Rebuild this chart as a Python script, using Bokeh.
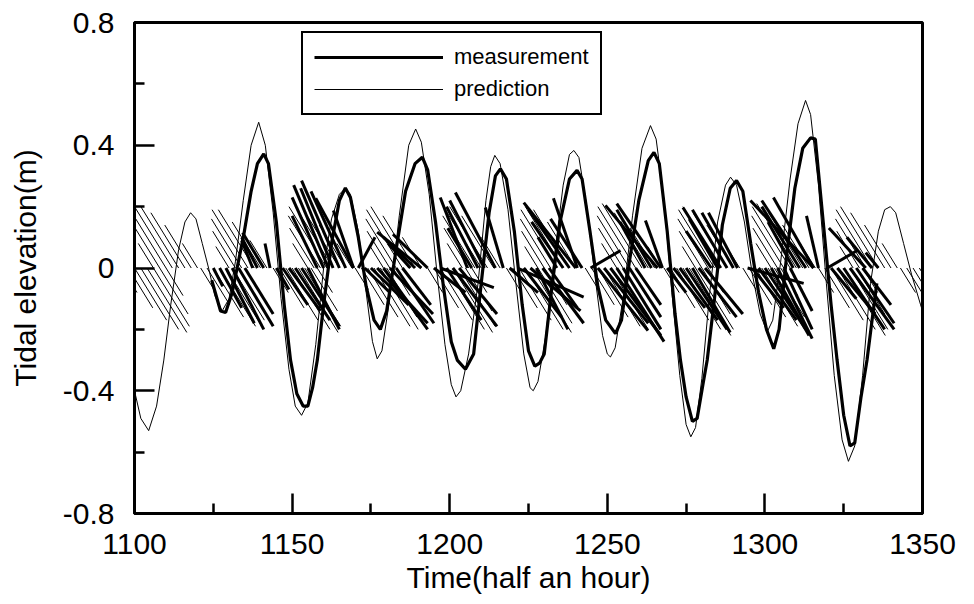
from bokeh.plotting import figure
from bokeh.models import ColumnDataSource, FixedTicker, Legend, LegendItem
from bokeh.embed import file_html
from bokeh.resources import INLINE

# ---------------- tidal elevation ----------------
pred_t = [1100, 1102, 1104.5, 1107, 1109.3, 1111.5, 1114, 1116, 1117.8, 1119.5, 1121.5, 1123.5,
          1125.5, 1127.8, 1130, 1132, 1134.5, 1137, 1139.4, 1141.5, 1144, 1146.5, 1149, 1151,
          1153, 1155, 1157.5, 1160, 1162.5, 1165, 1166.9, 1168.5, 1171, 1173.5, 1175.5, 1177,
          1178.5, 1181, 1184, 1187, 1189.2, 1191, 1193.5, 1196, 1198.5, 1200.5, 1202, 1203.5,
          1206, 1209, 1211.5, 1213, 1214.3, 1216, 1218.5, 1221, 1223.5, 1225.5, 1226.5, 1228,
          1230.5, 1233, 1236, 1238, 1239.4, 1241, 1243.5, 1246, 1248.5, 1250, 1251, 1252.5,
          1255, 1258, 1261, 1263.7, 1265.5, 1268, 1270.5, 1273, 1275, 1276.5, 1278, 1280,
          1282.5, 1285, 1287.5, 1289.1, 1291, 1293.5, 1296, 1298.5, 1300.7, 1302.5, 1305, 1308,
          1310.5, 1312.9, 1314.5, 1317, 1319.5, 1322, 1324.5, 1326.5, 1328.5, 1331, 1333.5, 1336,
          1338, 1339.8, 1341.5, 1344, 1346.5, 1349.4, 1350]
pred_h = [-0.40, -0.49, -0.53, -0.45, -0.30, -0.12, 0.06, 0.15, 0.18, 0.16, 0.08, 0.00,
          -0.09, -0.14, -0.10, 0.02, 0.22, 0.40, 0.475, 0.40, 0.18, -0.10, -0.33, -0.45,
          -0.48, -0.44, -0.25, 0.00, 0.16, 0.24, 0.26, 0.24, 0.12, -0.08, -0.24, -0.296,
          -0.27, -0.10, 0.17, 0.40, 0.453, 0.41, 0.24, -0.02, -0.25, -0.38, -0.42, -0.40,
          -0.28, -0.05, 0.22, 0.33, 0.367, 0.34, 0.19, -0.05, -0.28, -0.39, -0.40, -0.37,
          -0.22, 0.02, 0.27, 0.37, 0.383, 0.36, 0.20, -0.02, -0.22, -0.28, -0.29, -0.26,
          -0.10, 0.17, 0.39, 0.464, 0.42, 0.22, -0.08, -0.35, -0.51, -0.55, -0.52, -0.36,
          -0.08, 0.15, 0.27, 0.296, 0.27, 0.15, -0.02, -0.15, -0.209, -0.17, 0.02, 0.29,
          0.47, 0.546, 0.50, 0.27, -0.05, -0.35, -0.56, -0.63, -0.58, -0.35, -0.05, 0.12,
          0.19, 0.20, 0.18, 0.08, -0.02, -0.12, -0.14]

meas_t = [1124.5, 1127.3, 1128.9, 1131, 1134.7, 1137, 1139, 1141, 1142.5, 1145, 1147.5, 1149.5,
          1151.5, 1153.5, 1155, 1156.5, 1158, 1160, 1162.5, 1165, 1166.9, 1168.5, 1171, 1173.5,
          1176, 1178, 1180, 1183, 1186, 1189, 1191.3, 1193, 1195.5, 1198, 1200.5, 1202.4,
          1205, 1207.6, 1210, 1212.5, 1214.5, 1216.1, 1218, 1220.5, 1223, 1225, 1227, 1228.5,
          1230, 1232, 1235, 1238, 1240.4, 1242, 1244.5, 1247, 1249.5, 1252.6, 1254.5, 1257,
          1260, 1263, 1264.8, 1266.5, 1269, 1271.5, 1273.2, 1275, 1277, 1278.5, 1280.5, 1281.7,
          1284, 1286.5, 1289, 1291, 1293, 1295.5, 1298, 1300.5, 1302.8, 1304.5, 1307, 1309.5,
          1312, 1314.5, 1316, 1318.5, 1321, 1322.9, 1325, 1327, 1328.5, 1330.5, 1332.4, 1334,
          1335.5]
meas_h = [-0.04, -0.14, -0.145, -0.08, 0.11, 0.25, 0.34, 0.372, 0.34, 0.15, -0.12, -0.30,
          -0.41, -0.45, -0.45, -0.39, -0.30, -0.12, 0.08, 0.22, 0.261, 0.23, 0.10, -0.06,
          -0.17, -0.20, -0.14, 0.06, 0.25, 0.34, 0.361, 0.32, 0.15, -0.06, -0.24, -0.30,
          -0.33, -0.28, -0.05, 0.18, 0.30, 0.323, 0.29, 0.12, -0.12, -0.27, -0.32, -0.31,
          -0.28, -0.10, 0.15, 0.29, 0.318, 0.29, 0.12, -0.06, -0.17, -0.214, -0.17, 0.02,
          0.22, 0.35, 0.377, 0.34, 0.12, -0.15, -0.30, -0.42, -0.50, -0.49, -0.37, -0.30,
          -0.10, 0.14, 0.26, 0.285, 0.25, 0.08, -0.08, -0.20, -0.263, -0.20, 0.05, 0.26,
          0.39, 0.424, 0.42, 0.15, -0.12, -0.30, -0.48, -0.58, -0.57, -0.42, -0.30, -0.17,
          -0.05]

# ---------------- current sticks ----------------
pred_stick_t = [1106, 1108, 1110, 1112, 1114, 1116, 1118, 1120,
                1130, 1132, 1134, 1136, 1138, 1140, 1142,
                1155, 1157, 1159, 1161, 1163, 1165, 1167, 1169,
                1179, 1181, 1183, 1185, 1187, 1189, 1191,
                1204, 1206, 1208, 1210, 1212, 1214, 1216,
                1228, 1230, 1232, 1234, 1236, 1238, 1240, 1242,
                1253, 1255, 1257, 1259, 1261, 1263, 1265, 1267,
                1278, 1280, 1282, 1284, 1286, 1288, 1290, 1292,
                1302, 1304, 1306, 1308, 1310, 1312, 1314, 1316,
                1328, 1330, 1332, 1334, 1336, 1338, 1340, 1342,
                1096, 1098, 1100, 1102, 1104, 1106, 1108, 1110,
                1121, 1123, 1125, 1127, 1129, 1131, 1133,
                1144, 1146, 1148, 1150, 1152, 1154, 1156, 1158,
                1170, 1172, 1174, 1176, 1178, 1180, 1182,
                1193, 1195, 1197, 1199, 1201, 1203, 1205, 1207,
                1218, 1220, 1222, 1224, 1226, 1228, 1230,
                1243, 1245, 1247, 1249, 1251, 1253, 1255,
                1268, 1270, 1272, 1274, 1276, 1278, 1280, 1282,
                1293, 1295, 1297, 1299, 1301, 1303, 1305,
                1317, 1319, 1321, 1323, 1325, 1327, 1329, 1331,
                1343, 1345, 1347, 1349, 1351]
pred_stick_s = [0.08, 0.13, 0.17, 0.20, 0.20, 0.18, 0.14, 0.08,
                0.07, 0.12, 0.16, 0.19, 0.19, 0.15, 0.09,
                0.08, 0.13, 0.17, 0.20, 0.20, 0.18, 0.14, 0.08,
                0.07, 0.12, 0.16, 0.19, 0.20, 0.17, 0.10,
                0.08, 0.13, 0.17, 0.20, 0.20, 0.17, 0.10,
                0.07, 0.12, 0.16, 0.19, 0.20, 0.19, 0.15, 0.08,
                0.08, 0.13, 0.17, 0.20, 0.21, 0.18, 0.13, 0.07,
                0.07, 0.12, 0.16, 0.19, 0.20, 0.18, 0.14, 0.08,
                0.08, 0.13, 0.17, 0.20, 0.21, 0.18, 0.14, 0.08,
                0.07, 0.12, 0.16, 0.19, 0.20, 0.18, 0.14, 0.08,
                -0.08, -0.13, -0.17, -0.20, -0.21, -0.19, -0.15, -0.09,
                -0.07, -0.12, -0.16, -0.19, -0.20, -0.17, -0.10,
                -0.08, -0.13, -0.17, -0.20, -0.21, -0.19, -0.14, -0.08,
                -0.07, -0.12, -0.16, -0.19, -0.20, -0.16, -0.09,
                -0.08, -0.13, -0.17, -0.20, -0.21, -0.19, -0.14, -0.08,
                -0.08, -0.13, -0.17, -0.20, -0.21, -0.18, -0.12,
                -0.07, -0.12, -0.16, -0.19, -0.20, -0.17, -0.10,
                -0.08, -0.13, -0.17, -0.20, -0.22, -0.20, -0.15, -0.08,
                -0.07, -0.12, -0.16, -0.19, -0.20, -0.16, -0.09,
                -0.08, -0.13, -0.17, -0.20, -0.22, -0.20, -0.15, -0.08,
                -0.08, -0.13, -0.17, -0.20, -0.20]
pred_stick_dir = -60.0   # time units per metre of stick height (NW-SE axis)

meas_stick_t = [1125, 1127, 1129, 1131, 1133, 1135,
                1137.5, 1139, 1141, 1143,
                1145, 1147, 1149, 1151, 1153, 1155,
                1158, 1160, 1161.5, 1163, 1165, 1167, 1169.5, 1169.5,
                1171,
                1173, 1175, 1177, 1179, 1181, 1183, 1185,
                1187.5, 1189, 1191, 1193,
                1195, 1197, 1199, 1201, 1203,
                1205.6, 1207, 1209, 1211, 1214.5, 1217,
                1219, 1221.5, 1223.5, 1225.6, 1227.5, 1229.5, 1231.5,
                1234, 1236, 1238, 1240, 1240.5, 1242,
                1244.7,
                1247, 1249, 1251, 1253, 1255, 1257, 1259,
                1262, 1264, 1265.9, 1267, 1267.5,
                1269, 1271, 1273, 1275, 1277, 1279, 1281,
                1283, 1285, 1286, 1288, 1290, 1291.3,
                1294.5, 1296, 1298, 1300, 1302, 1304, 1306, 1308,
                1309, 1311, 1313, 1315.4, 1315.4, 1317,
                1319.8,
                1321, 1323, 1325, 1327, 1329, 1331,
                1332, 1334, 1336]
meas_stick_dx = [3, 7, 9, 10, 11, 9,
                 -3.5, -5, -6.7, -1.6,
                 4, 8, 10, 11, 12, 10,
                 -8, -10, -11, -10.3, -12, -11, -12, -6.4,
                 5.3,
                 8, 12, 16, 14, 13.7, 12, 9,
                 -7, -10, -14, -11,
                 10, 17, 11, 14, 12,
                 -8.6, -7.6, -10, -11, -12.7, -5.7,
                 9, 21, 12, 15.9, 10, 13, 9,
                 -6, -10, -13, -16.5, -7.6, -10,
                 9.5,
                 15.9, 14, 16, 15, 12, 10, 8,
                 -8, -11, -16.5, -14, -5.4,
                 6, 10, 12, 13, 12, 12, 12,
                 -8, -9, -12, -11, -10, -9.2,
                 17.8, 10, 12, 13, 12, 11, 9, 7,
                 -8, -12, -14, -12.7, -20, -3.8,
                 9.5,
                 8, 12, 13, 14, 12, 9,
                 -11.7, -8, -4]
meas_stick_dy = [-0.06, -0.13, -0.18, -0.20, -0.19, -0.15,
                 0.09, 0.10, 0.115, 0.08,
                 -0.07, -0.12, -0.14, -0.17, -0.19, -0.20,
                 0.17, 0.23, 0.27, 0.26, 0.285, 0.25, 0.227, 0.187,
                 0.10,
                 -0.08, -0.12, -0.18, -0.20, -0.15, -0.18, -0.12,
                 0.08, 0.10, 0.117, 0.11,
                 -0.08, -0.064, -0.17, -0.19, -0.15,
                 0.23, 0.13, 0.20, 0.22, 0.246, 0.197,
                 -0.08, -0.095, -0.16, -0.14, -0.20, -0.18, -0.13,
                 0.10, 0.15, 0.19, 0.213, 0.227, 0.16,
                 0.057,
                 -0.204, -0.18, -0.22, -0.24, -0.20, -0.16, -0.12,
                 0.15, 0.19, 0.204, 0.21, 0.155,
                 -0.08, -0.13, -0.17, -0.20, -0.21, -0.16, -0.15,
                 0.12, 0.16, 0.197, 0.19, 0.18, 0.18,
                 -0.05, -0.13, -0.17, -0.20, -0.22, -0.23, -0.20, -0.14,
                 0.15, 0.20, 0.22, 0.23, 0.22, 0.17,
                 0.057,
                 -0.10, -0.15, -0.20, -0.20, -0.18, -0.12,
                 0.13, 0.10, 0.05]

x_ticks = [1100, 1150, 1200, 1250, 1300, 1350]
x_minor = [1125, 1175, 1225, 1275, 1325]
y_ticks = [-0.8, -0.4, 0, 0.4, 0.8]
y_minor = [-0.6, -0.2, 0.2, 0.6]
y_labels = {-0.8: "-0.8", -0.4: "-0.4", 0: "0", 0.4: "0.4", 0.8: "0.8"}

FONT = "Liberation Sans"

p = figure(width=974, height=604, x_range=(1100, 1350), y_range=(-0.8, 0.8),
           output_backend="svg", toolbar_location=None,
           min_border_left=134, min_border_right=52, min_border_top=22, min_border_bottom=91)
p.xgrid.visible = False
p.ygrid.visible = False
p.outline_line_color = "black"
p.outline_line_width = 3
p.outline_line_alpha = 1

ps = ColumnDataSource(dict(
    x0=pred_stick_t, y0=[0.0] * len(pred_stick_t),
    x1=[t + pred_stick_dir * s for t, s in zip(pred_stick_t, pred_stick_s)],
    y1=pred_stick_s))
p.segment("x0", "y0", "x1", "y1", source=ps, line_color="black", line_width=1)

ms = ColumnDataSource(dict(
    x0=meas_stick_t, y0=[0.0] * len(meas_stick_t),
    x1=[t + d for t, d in zip(meas_stick_t, meas_stick_dx)],
    y1=meas_stick_dy))
p.segment("x0", "y0", "x1", "y1", source=ms, line_color="black", line_width=3)

r_pred = p.line(pred_t, pred_h, line_color="black", line_width=1)
r_meas = p.line(meas_t, meas_h, line_color="black", line_width=3.2)

for ax in (p.xaxis[0], p.yaxis[0]):
    ax.axis_line_width = 3
    ax.axis_line_color = "black"
    ax.major_tick_in = 20
    ax.major_tick_out = 0
    ax.minor_tick_in = 10
    ax.minor_tick_out = 0
    ax.major_tick_line_width = 2.5
    ax.minor_tick_line_width = 2.5
    ax.major_tick_line_color = "black"
    ax.minor_tick_line_color = "black"
    ax.major_label_text_font = FONT
    ax.major_label_text_font_size = "30px"
    ax.major_label_text_color = "black"
    ax.axis_label_text_font = FONT
    ax.axis_label_text_font_size = "30px"
    ax.axis_label_text_font_style = "normal"
    ax.axis_label_text_color = "black"

p.xaxis.ticker = FixedTicker(ticks=x_ticks, minor_ticks=x_minor)
p.yaxis.ticker = FixedTicker(ticks=y_ticks, minor_ticks=y_minor)
p.yaxis.major_label_overrides = y_labels
p.xaxis.major_label_standoff = 20
p.yaxis.major_label_standoff = 20
p.xaxis.axis_label = "Time(half an hour)"
p.yaxis.axis_label = "Tidal elevation(m)"
p.xaxis.axis_label_standoff = 4
p.yaxis.axis_label_standoff = 18

legend = Legend(items=[LegendItem(label="measurement", renderers=[r_meas]),
                       LegendItem(label="prediction", renderers=[r_pred])],
                location=(167, 398), glyph_width=129, glyph_height=26, label_height=26,
                spacing=6, padding=11, margin=0, label_standoff=11,
                border_line_color="black", border_line_width=2, border_line_alpha=1,
                label_text_font=FONT, label_text_font_size="22px", label_text_color="black",
                background_fill_color="white", background_fill_alpha=1)
p.add_layout(legend)

open("out.html", "w").write(file_html(p, INLINE))
